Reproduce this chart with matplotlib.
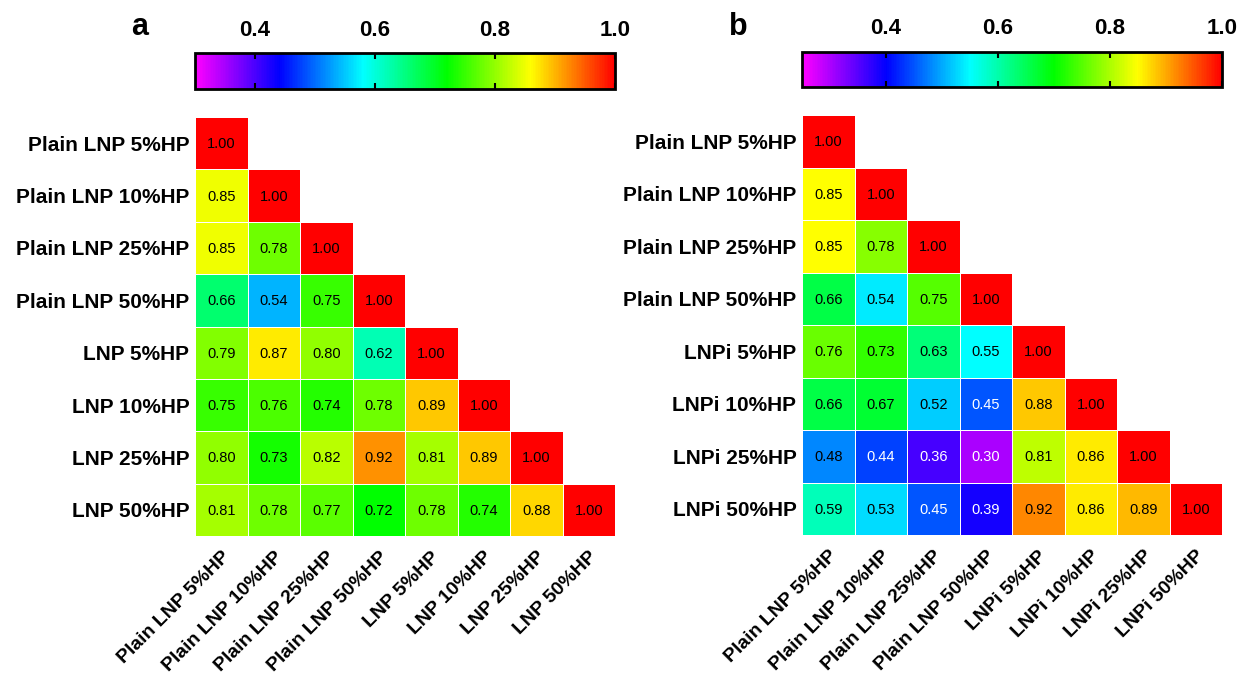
import numpy as np
import matplotlib
matplotlib.use("Agg")
import matplotlib.pyplot as plt
from matplotlib.colors import ListedColormap, Normalize, hsv_to_rgb

plt.rcParams['font.family'] = ['Liberation Sans', 'DejaVu Sans']

labels_a = ["Plain LNP 5%HP", "Plain LNP 10%HP", "Plain LNP 25%HP", "Plain LNP 50%HP",
            "LNP 5%HP", "LNP 10%HP", "LNP 25%HP", "LNP 50%HP"]
labels_b = ["Plain LNP 5%HP", "Plain LNP 10%HP", "Plain LNP 25%HP", "Plain LNP 50%HP",
            "LNPi 5%HP", "LNPi 10%HP", "LNPi 25%HP", "LNPi 50%HP"]

# lower triangle, row by row
rows_a = [
    [1.00],
    [0.85, 1.00],
    [0.85, 0.78, 1.00],
    [0.66, 0.54, 0.75, 1.00],
    [0.79, 0.87, 0.80, 0.62, 1.00],
    [0.75, 0.76, 0.74, 0.78, 0.89, 1.00],
    [0.80, 0.73, 0.82, 0.92, 0.81, 0.89, 1.00],
    [0.81, 0.78, 0.77, 0.72, 0.78, 0.74, 0.88, 1.00],
]
rows_b = [
    [1.00],
    [0.85, 1.00],
    [0.85, 0.78, 1.00],
    [0.66, 0.54, 0.75, 1.00],
    [0.76, 0.73, 0.63, 0.55, 1.00],
    [0.66, 0.67, 0.52, 0.45, 0.88, 1.00],
    [0.48, 0.44, 0.36, 0.30, 0.81, 0.86, 1.00],
    [0.59, 0.53, 0.45, 0.39, 0.92, 0.86, 0.89, 1.00],
]
range_a = (0.30, 1.00)
range_b = (0.25, 1.00)
cbar_ticks = [0.4, 0.6, 0.8, 1.0]

# rainbow: magenta -> blue -> cyan -> green -> yellow -> red (linear hue)
hues = np.linspace(300 / 360, 0, 256)
rainbow = ListedColormap(hsv_to_rgb(np.column_stack([hues, np.ones(256), np.ones(256)])))


def to_matrix(rows):
    n = len(rows)
    m = np.full((n, n), np.nan)
    for i, r in enumerate(rows):
        m[i, :len(r)] = r
    return np.ma.masked_invalid(m)


def draw_panel(fig, heat_rect, cbar_rect, rows, labels, vrange, letter, letter_xy):
    data = to_matrix(rows)
    n = len(labels)
    norm = Normalize(*vrange)

    ax = fig.add_axes(heat_rect)
    mesh = ax.pcolormesh(np.arange(n + 1), np.arange(n + 1), data, cmap=rainbow, norm=norm,
                         edgecolors='white', linewidth=0.6)
    ax.set_xlim(0, n)
    ax.set_ylim(n, 0)
    for s in ax.spines.values():
        s.set_visible(False)
    ax.set_xticks(np.arange(n) + 0.5)
    ax.set_yticks(np.arange(n) + 0.5)
    ax.set_xticklabels(labels, rotation=45, ha='right', rotation_mode='anchor',
                       fontsize=14, fontweight='bold')
    ax.set_yticklabels(labels, fontsize=15, fontweight='bold')
    ax.tick_params(axis='y', length=0, pad=4)
    ax.tick_params(axis='x', length=0, pad=9)

    for i, r in enumerate(rows):
        for j, v in enumerate(r):
            col = 'white' if v < 0.46 else 'black'
            ax.text(j + 0.5, i + 0.52, f"{v:.2f}", ha='center', va='center', fontsize=10.5, color=col)

    cax = fig.add_axes(cbar_rect)
    cb = fig.colorbar(mesh, cax=cax, orientation='horizontal', ticks=cbar_ticks)
    cb.outline.set_linewidth(2)
    cax.xaxis.set_ticks_position('both')
    cax.xaxis.set_label_position('top')
    cax.tick_params(axis='x', direction='in', length=4, width=1.5, labeltop=True, labelbottom=False,
                    labelsize=16, pad=9)
    cax.set_xticklabels([f"{t:.1f}" for t in cbar_ticks], fontweight='bold')

    fig.text(letter_xy[0], letter_xy[1], letter, fontsize=22, fontweight='bold', ha='center', va='center')


fig = plt.figure(figsize=(12.43, 6.89), dpi=100)
W, H = 1243, 689


def rect(x0, y0, x1, y1):
    return [x0 / W, 1 - y1 / H, (x1 - x0) / W, (y1 - y0) / H]


draw_panel(fig, rect(195, 117, 615, 536), rect(195, 53, 615, 89), rows_a, labels_a, range_a,
           'a', (140 / W, 1 - 27 / H))
draw_panel(fig, rect(802, 115, 1222, 535), rect(802, 52, 1222, 87), rows_b, labels_b, range_b,
           'b', (738 / W, 1 - 27 / H))

fig.savefig("out.png", dpi=100)
